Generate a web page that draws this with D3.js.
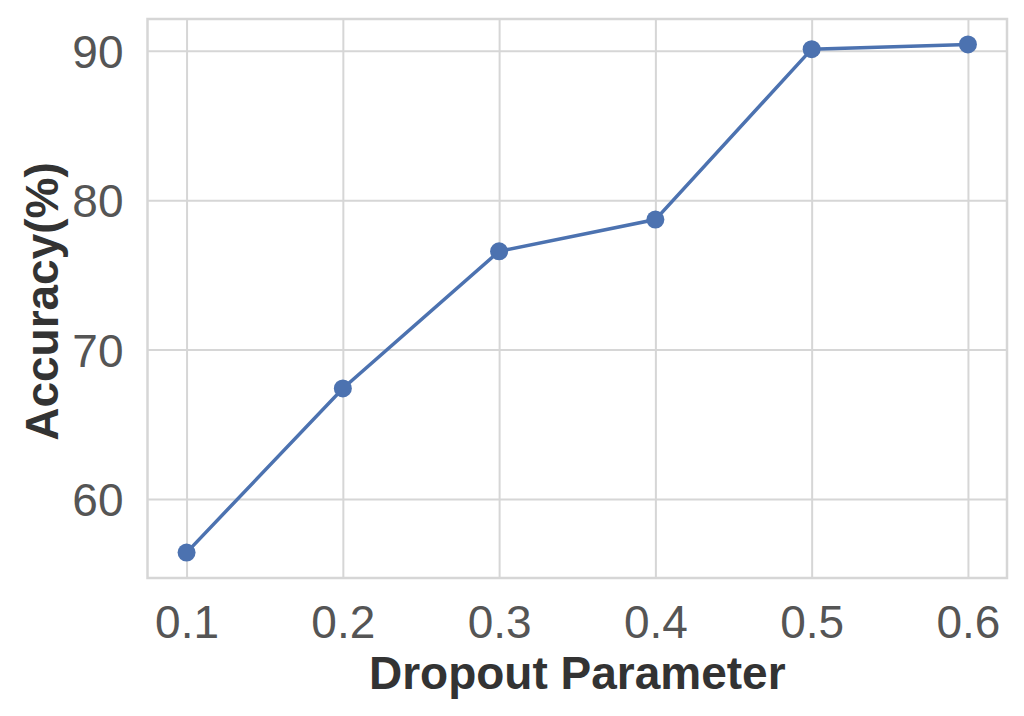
<!DOCTYPE html>
<html>
<head>
<meta charset="utf-8">
<script src="https://cdn.jsdelivr.net/npm/d3@7/dist/d3.min.js"></script>
<style>
  html, body { margin: 0; padding: 0; background: #ffffff; }
  svg { display: block; }
</style>
</head>
<body>
<div id="chart"></div>
<script>
// ---- data ----
const dropout = [0.1, 0.2, 0.3, 0.4, 0.5, 0.6];
const accuracy = [56.42, 67.40, 76.58, 78.70, 90.10, 90.42];
const xTicks = [0.1, 0.2, 0.3, 0.4, 0.5, 0.6];
const yTicks = [60, 70, 80, 90];
const xLabel = "Dropout Parameter";
const yLabel = "Accuracy(%)";

const W = 1024, H = 716;
const margin = { left: 147.5, right: 17, top: 19, bottom: 138 };
const iw = W - margin.left - margin.right;
const ih = H - margin.top - margin.bottom;

const svg = d3.select("#chart").append("svg").attr("width", W).attr("height", H);
const g = svg.append("g").attr("transform", `translate(${margin.left},${margin.top})`);

function padded(ext) {
  const p = (ext[1] - ext[0]) * 0.05;
  return [ext[0] - p, ext[1] + p];
}
const x = d3.scaleLinear().domain(padded(d3.extent(dropout))).range([0, iw]);
const y = d3.scaleLinear().domain(padded(d3.extent(accuracy))).range([ih, 0]);

const gridColor = "#d6d6d6";
const font = "'Liberation Sans', Arial, sans-serif";

// grid
const xAxis = d3.axisBottom(x).tickValues(xTicks).tickSize(-ih).tickPadding(0)
  .tickFormat(d3.format(".1f"));
const yAxis = d3.axisLeft(y).tickValues(yTicks).tickSize(-iw).tickPadding(24)
  .tickFormat(d3.format("d"));

const gx = g.append("g").attr("transform", `translate(0,${ih})`).call(xAxis);
const gy = g.append("g").call(yAxis);
[gx, gy].forEach(a => {
  a.select(".domain").remove();
  a.selectAll(".tick line").attr("stroke", gridColor).attr("stroke-width", 2);
  a.selectAll(".tick text")
    .attr("fill", "#555555")
    .style("font-family", font)
    .style("font-size", "46px");
});
gx.selectAll(".tick text").attr("y", 60).attr("dy", null);
gy.selectAll(".tick text").attr("dy", "0.36em");

// border (spines)
g.append("rect").attr("x", 0).attr("y", 0).attr("width", iw).attr("height", ih)
  .attr("fill", "none").attr("stroke", gridColor).attr("stroke-width", 2.5);

// line
const pts = dropout.map((d, i) => [d, accuracy[i]]);
g.append("path").datum(pts)
  .attr("fill", "none").attr("stroke", "#4c72b0").attr("stroke-width", 3.5)
  .attr("d", d3.line().x(d => x(d[0])).y(d => y(d[1])));
g.selectAll("circle.pt").data(pts).enter().append("circle")
  .attr("class", "pt")
  .attr("cx", d => x(d[0])).attr("cy", d => y(d[1])).attr("r", 9)
  .attr("fill", "#4c72b0");

// axis labels
svg.append("text")
  .attr("x", margin.left + iw / 2).attr("y", 689)
  .attr("text-anchor", "middle")
  .attr("fill", "#333333")
  .style("font-family", font)
  .style("font-size", "46px").style("font-weight", "bold")
  .text(xLabel);
svg.append("text")
  .attr("transform", `translate(58,${margin.top + ih / 2 + 3}) rotate(-90)`)
  .attr("text-anchor", "middle")
  .attr("fill", "#333333")
  .style("font-family", font)
  .style("font-size", "46px").style("font-weight", "bold")
  .text(yLabel);
</script>
</body>
</html>
